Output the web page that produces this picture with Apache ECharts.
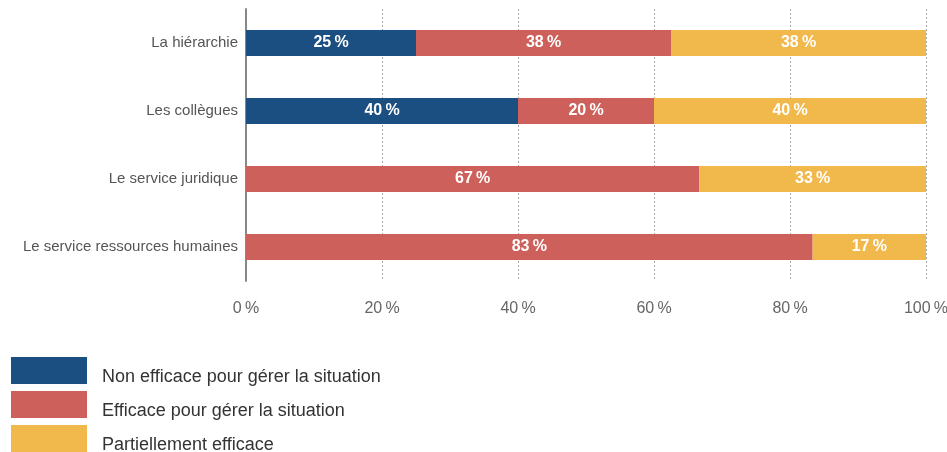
<!DOCTYPE html>
<html>
<head>
<meta charset="utf-8">
<script src="https://cdn.jsdelivr.net/npm/echarts@6/dist/echarts.min.js"></script>
<style>html,body{margin:0;padding:0;background:#fff}#c{width:947px;height:452px}</style>
</head>
<body>
<div id="c"></div>
<script>
var categories = ['La hiérarchie', 'Les collègues', 'Le service juridique', 'Le service ressources humaines'];
var seriesNames = ['Non efficace pour gérer la situation', 'Efficace pour gérer la situation', 'Partiellement efficace'];
var nonEfficace = [25, 40, 0, 0];
var efficace = [37.5, 20, 66.67, 83.33];
var partiel = [37.5, 40, 33.33, 16.67];
var xTicks = [0, 20, 40, 60, 80, 100];
var colors = ['#1c4f81', '#cd605a', '#f1b94b'];
var FONT = "'Liberation Sans', Arial, sans-serif";

var chart = echarts.init(document.getElementById('c'));
function mk(name, data, color) {
  return {
    name: name, type: 'bar', stack: 'total', data: data,
    barWidth: 26,
    itemStyle: { color: color },
    label: {
      show: true, position: 'inside', color: '#fff', fontWeight: 'bold', fontSize: 16, fontFamily: FONT,
      formatter: function (p) { return p.value > 0 ? Math.round(p.value) + '\u202f%' : ''; }
    }
  };
}
function lg(i) {
  return {
    orient: 'vertical', left: 11, top: 357 + i * 34, padding: 0,
    itemWidth: 76, itemHeight: 27, itemGap: 7,
    icon: 'rect', selectedMode: false,
    data: [seriesNames[i]],
    formatter: '{t|{name}}',
    textStyle: {
      fontSize: 18, color: '#333', fontFamily: FONT, padding: [0, 0, 0, 10],
      rich: { t: { fontSize: 18, color: '#333', fontFamily: FONT, padding: [14, 0, 0, 0] } }
    }
  };
}
chart.setOption({
  animation: false,
  textStyle: { fontFamily: FONT },
  grid: { left: 246, right: 21, top: 9, height: 272, containLabel: false, outerBoundsMode: 'none' },
  xAxis: {
    type: 'value', min: 0, max: 100, interval: 20,
    axisLine: { show: false }, axisTick: { show: false },
    splitLine: { show: true, lineStyle: { color: '#aaa', type: [2, 2], width: 1 } },
    axisLabel: { color: '#666', fontSize: 16, fontFamily: FONT, margin: 20,
      formatter: function (v) { return xTicks.indexOf(v) >= 0 ? v + '\u202f%' : ''; } }
  },
  yAxis: {
    type: 'category', data: categories, inverse: true,
    axisLine: { show: true, lineStyle: { color: '#888', width: 2 } },
    axisTick: { show: false },
    axisLabel: { color: '#555', fontSize: 15, fontFamily: FONT, margin: 8 }
  },
  legend: [lg(0), lg(1), lg(2)],
  series: [mk(seriesNames[0], nonEfficace, colors[0]), mk(seriesNames[1], efficace, colors[1]), mk(seriesNames[2], partiel, colors[2])]
});
</script>
</body>
</html>
